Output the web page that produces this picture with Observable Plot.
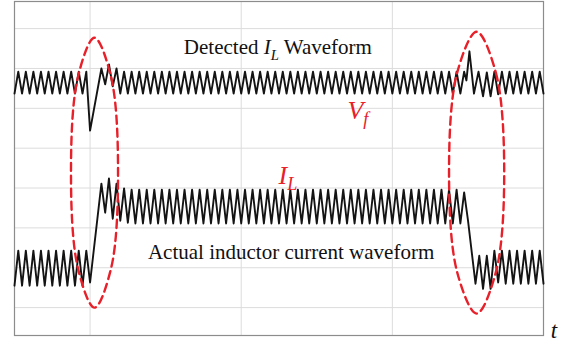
<!DOCTYPE html>
<html>
<head>
<meta charset="utf-8">
<script src="https://cdn.jsdelivr.net/npm/d3@7"></script>
<script src="https://cdn.jsdelivr.net/npm/@observablehq/plot@0.6"></script>
<style>
  body { margin: 0; background: #fff; }
</style>
</head>
<body>
<div id="chart"></div>
<script>
// Time axis in switching half-periods; vertical axis in grid divisions.
const gridT = [20, 60, 100];
const gridV = [0, 1, 2, 3, 4, 5, 6, 7];

// Detected inductor current: vertices [t, value]
const detected = [
  [0,5.37],[1,5.92],[2,5.37],[3,5.92],[4,5.37],[5,5.92],[6,5.37],[7,5.92],[8,5.37],[9,5.92],
  [10,5.37],[11,5.92],[12,5.37],[13,5.92],[14,5.37],[15,5.92],[16,5.37],[17,5.92],[18,5.37],[19,5.92],
  [20,4.44],[23,6.0],[24,5.6],[25,6.1],[26,5.55],[27,6.0],[28,5.37],[29,5.92],
  [30,5.37],[31,5.92],[32,5.37],[33,5.92],[34,5.37],[35,5.92],[36,5.37],[37,5.92],[38,5.37],[39,5.92],
  [40,5.37],[41,5.92],[42,5.37],[43,5.92],[44,5.37],[45,5.92],[46,5.37],[47,5.92],[48,5.37],[49,5.92],
  [50,5.37],[51,5.92],[52,5.37],[53,5.92],[54,5.37],[55,5.92],[56,5.37],[57,5.92],[58,5.37],[59,5.92],
  [60,5.37],[61,5.92],[62,5.37],[63,5.92],[64,5.37],[65,5.92],[66,5.37],[67,5.92],[68,5.37],[69,5.92],
  [70,5.37],[71,5.92],[72,5.37],[73,5.92],[74,5.37],[75,5.92],[76,5.37],[77,5.92],[78,5.37],[79,5.92],
  [80,5.37],[81,5.92],[82,5.37],[83,5.92],[84,5.37],[85,5.92],[86,5.37],[87,5.92],[88,5.37],[89,5.92],
  [90,5.37],[91,5.92],[92,5.37],[93,5.92],[94,5.37],[95,5.92],[96,5.37],[97,5.92],[98,5.37],[99,5.92],
  [100,5.37],[101,5.92],[102,5.37],[103,5.92],[104,5.37],[105,5.92],[106,5.37],[107,5.92],[108,5.37],[109,5.92],
  [110,5.37],[111,5.92],[112,5.37],[113,5.92],[114,5.37],[115,5.92],[116,5.37],[117,5.92],[118,5.37],
  [119,5.92],[119.6,5.7],[120.4,6.43],[121.6,5.37],[122.8,5.92],[124,5.3],[125,5.9],[126,5.3],[127,5.92],[128,5.35],
  [129,5.92],[130,5.37],[131,5.92],[132,5.37],[133,5.92],[134,5.37],[135,5.92],[136,5.37],[137,5.92],[138,5.37],
  [139,5.92],[140,5.37]
];

// Actual inductor current: vertices [t, value]
const actual = [
  [0,0.55],[1,1.43],[2,0.55],[3,1.43],[4,0.55],[5,1.43],[6,0.55],[7,1.43],[8,0.55],[9,1.43],
  [10,0.55],[11,1.43],[12,0.55],[13,1.43],[14,0.55],[15,1.43],[16,0.55],[17,1.43],[18,0.55],[19,1.43],
  [20,0.63],[23,3.11],[24,2.38],[25,3.24],[26,2.23],[27,3.11],[28,2.18],[29,2.99],[30,2.13],
  [31,2.96],[32,2.11],[33,2.96],[34,2.11],[35,2.96],[36,2.11],[37,2.96],[38,2.11],[39,2.96],[40,2.11],
  [41,2.96],[42,2.11],[43,2.96],[44,2.11],[45,2.96],[46,2.11],[47,2.96],[48,2.11],[49,2.96],[50,2.11],
  [51,2.96],[52,2.11],[53,2.96],[54,2.11],[55,2.96],[56,2.11],[57,2.96],[58,2.11],[59,2.96],[60,2.11],
  [61,2.96],[62,2.11],[63,2.96],[64,2.11],[65,2.96],[66,2.11],[67,2.96],[68,2.11],[69,2.96],[70,2.11],
  [71,2.96],[72,2.11],[73,2.96],[74,2.11],[75,2.96],[76,2.11],[77,2.96],[78,2.11],[79,2.96],[80,2.11],
  [81,2.96],[82,2.11],[83,2.96],[84,2.11],[85,2.96],[86,2.11],[87,2.96],[88,2.11],[89,2.96],[90,2.11],
  [91,2.96],[92,2.11],[93,2.96],[94,2.11],[95,2.96],[96,2.11],[97,2.96],[98,2.11],[99,2.96],[100,2.11],
  [101,2.96],[102,2.11],[103,2.96],[104,2.11],[105,2.96],[106,2.11],[107,2.96],[108,2.11],[109,2.96],[110,2.11],
  [111,2.96],[112,2.11],[113,2.96],[114,2.11],[115,2.96],[116,2.11],[117,2.96],[118,2.11],
  [119,2.89],[120,2.2],[122,0.6],[123,1.3],[124,0.47],[125,1.3],[126,0.47],[127,1.43],[128,0.63],
  [129,1.43],[130,0.6],[131,1.43],[132,0.6],[133,1.43],[134,0.6],[135,1.43],[136,0.6],[137,1.43],[138,0.6],
  [139,1.43],[140,0.6]
];

// Dashed loops marking the two load transients: outline points [t, value]
const leftLoop = [
  [21.17,6.77],[25.57,5.78],[27.4,3.39],[25.57,0.99],[21.17,0],[16.78,0.99],[14.95,3.39],[16.78,5.78]
];
const rightLoop = [
  [122.3,6.92],[127.4,5.89],[129.6,3.39],[127.4,0.89],[122.3,-0.15],[117.15,0.89],[115.0,3.39],[117.15,5.89]
];

// Annotations: [t, value, text]
const blackLabels = [
  [69.7, 6.52, "Detected I_L Waveform"],
  [73.2, 1.40, "Actual inductor current waveform"]
];
const redLabels = [
  [88.1, 4.95, "V_f"],
  [69.9, 3.32, "I_L"]
];
const axisLabel = [[141.9, -0.58, "t"]];

const loops = [
  ...leftLoop.map(([t, v]) => ({id: "left", t, v})),
  ...rightLoop.map(([t, v]) => ({id: "right", t, v}))
];

const red = "#e8202a";
const serif = "'Liberation Serif', 'Times New Roman', Times, serif";

const chart = Plot.plot({
  width: 567,
  height: 344,
  marginLeft: 14,
  marginRight: 24,
  marginTop: 1,
  marginBottom: 9,
  x: {domain: [0, 140], axis: null},
  y: {domain: [-0.7, 7.68], axis: null},
  style: {background: "#fff", fontFamily: serif, overflow: "visible"},
  marks: [
    Plot.ruleX(gridT, {stroke: "#dcdcdc", strokeWidth: 1}),
    Plot.ruleY(gridV, {stroke: "#dcdcdc", strokeWidth: 1}),
    Plot.frame({stroke: "#8c8c8c", strokeWidth: 1.2}),
    Plot.line(detected, {x: d => d[0], y: d => d[1], stroke: "#141414", strokeWidth: 1.9}),
    Plot.line(actual, {x: d => d[0], y: d => d[1], stroke: "#141414", strokeWidth: 1.9}),
    Plot.line(loops, {x: "t", y: "v", z: "id", curve: "catmull-rom-closed",
      stroke: red, strokeWidth: 2.4, strokeDasharray: "8,5"}),
    Plot.text(blackLabels, {x: d => d[0], y: d => d[1], text: d => d[2],
      fontSize: 21, fill: "#111", textAnchor: "middle", fontFamily: serif}),
    Plot.text(redLabels, {x: d => d[0], y: d => d[1], text: d => d[2],
      fontSize: 26, fontStyle: "italic", fill: red, textAnchor: "start", fontFamily: serif}),
    Plot.text(axisLabel, {x: d => d[0], y: d => d[1], text: d => d[2],
      fontSize: 23, fontStyle: "italic", fill: "#111", textAnchor: "start", fontFamily: serif})
  ]
});

// Turn "X_y" into an italic symbol with an italic subscript
d3.select(chart).selectAll("text").each(function () {
  const s = this.textContent;
  const m = s.match(/^(.*?)(\S)_(\S)(.*)$/);
  if (!m) return;
  this.textContent = "";
  const el = d3.select(this);
  if (m[1]) el.append("tspan").text(m[1]);
  el.append("tspan").attr("font-style", "italic").text(m[2]);
  el.append("tspan").attr("font-style", "italic").style("font-size", "70%").attr("dy", "0.35em").text(m[3]);
  if (m[4]) el.append("tspan").attr("dy", "-0.245em").text(m[4]);
});

document.getElementById("chart").appendChild(chart);
</script>
</body>
</html>
